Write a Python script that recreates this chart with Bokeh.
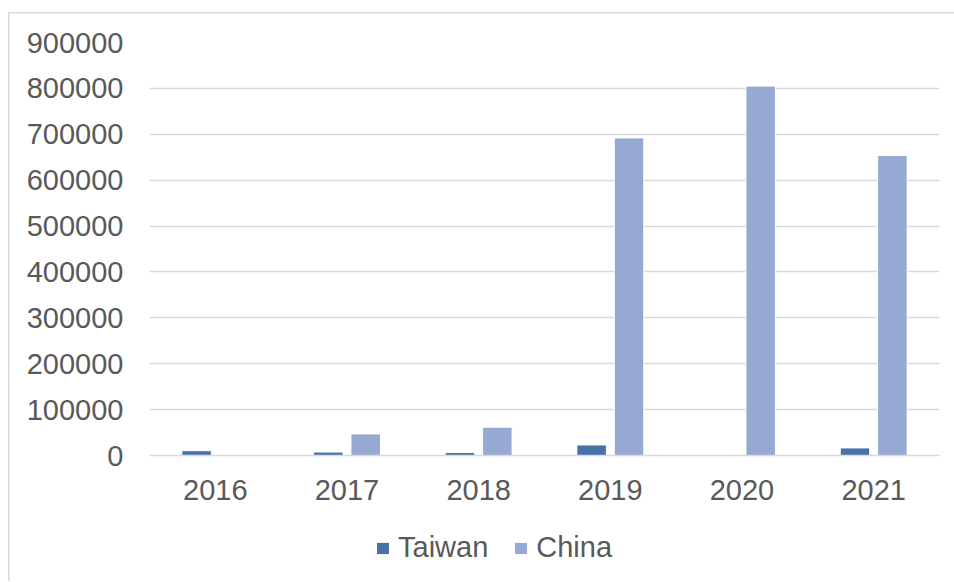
from bokeh.plotting import figure
from bokeh.layouts import column
from bokeh.models import (FactorRange, Range1d, FixedTicker, BasicTickFormatter,
                          Legend, LegendItem, ColumnDataSource)
from bokeh.transform import dodge
from bokeh.embed import file_html
from bokeh.resources import INLINE

years = ["2016", "2017", "2018", "2019", "2020", "2021"]
taiwan = [10500, 7500, 6500, 23000, 0, 16500]
china = [0, 47000, 61700, 692000, 805000, 654000]
y_ticks = [0, 100000, 200000, 300000, 400000, 500000, 600000, 700000, 800000, 900000]
series_names = ["Taiwan", "China"]
series_cols = ["taiwan", "china"]
series_colors = ["#4672A8", "#95A9D2"]

TXT = "#595959"
GRID = "#D9D9D9"
FONT = "Liberation Sans"
FS = "29px"

src = ColumnDataSource(dict(year=years, taiwan=taiwan, china=china))

p = figure(x_range=FactorRange(*years, range_padding=0), y_range=Range1d(0, 900000),
           width=946, height=503, output_backend="svg", toolbar_location=None,
           min_border_left=141, min_border_right=15, min_border_top=30, min_border_bottom=60)
p.outline_line_color = None
p.background_fill_color = "white"
p.border_fill_alpha = 0

bw = 0.224
offsets = [-0.142, 0.142]
for colname, color, off in zip(series_cols, series_colors, offsets):
    p.vbar(x=dodge("year", off, range=p.x_range), top=colname, width=bw, source=src,
           fill_color=color, line_color="white", line_width=1)

p.yaxis.ticker = FixedTicker(ticks=y_ticks)
p.yaxis.formatter = BasicTickFormatter(use_scientific=False)
p.ygrid.ticker = FixedTicker(ticks=y_ticks)
p.ygrid.grid_line_color = GRID
p.ygrid.grid_line_width = 1.5
p.xgrid.grid_line_color = None

for ax in (p.xaxis, p.yaxis):
    ax.major_label_text_font = FONT
    ax.major_label_text_font_size = FS
    ax.major_label_text_color = TXT
    ax.major_tick_line_color = None
    ax.minor_tick_line_color = None
p.yaxis.axis_line_color = None
p.yaxis.major_label_standoff = 20
p.xaxis.axis_line_color = GRID
p.xaxis.axis_line_width = 1.5
p.xaxis.major_label_standoff = 18

# legend strip (its frame is aligned with the chart frame by the column layout);
# its renderers are hidden, the legend only shows their swatches
lg = figure(width=946, height=66, x_range=FactorRange(*years, range_padding=0),
            y_range=Range1d(0, 900000), output_backend="svg", toolbar_location=None,
            min_border_left=0, min_border_right=0, min_border_top=0, min_border_bottom=0)
lg.axis.visible = False
lg.grid.grid_line_color = None
lg.outline_line_color = None
lg.background_fill_alpha = 0
lg.border_fill_alpha = 0
items = []
for name, colname, color in zip(series_names, series_cols, series_colors):
    r = lg.vbar(x="year", top=colname, width=bw, source=src,
                fill_color=color, line_color=None, visible=False)
    items.append(LegendItem(label=name, renderers=[r]))
legend = Legend(items=items, orientation="horizontal", location=(226, 17),
                glyph_width=15, glyph_height=14, label_standoff=8, spacing=25,
                padding=0, margin=0, border_line_color=None, background_fill_alpha=0,
                inactive_fill_alpha=0,
                label_text_font=FONT, label_text_font_size=FS, label_text_color=TXT)
lg.add_layout(legend, "center")

layout = column(p, lg, spacing=0)
layout.margin = (12, 0, 0, 8)
layout.styles = {"box-shadow": "inset 1.5px 1.5px 0 0 #D9D9D9"}

open("out.html", "w").write(file_html(layout, INLINE))
